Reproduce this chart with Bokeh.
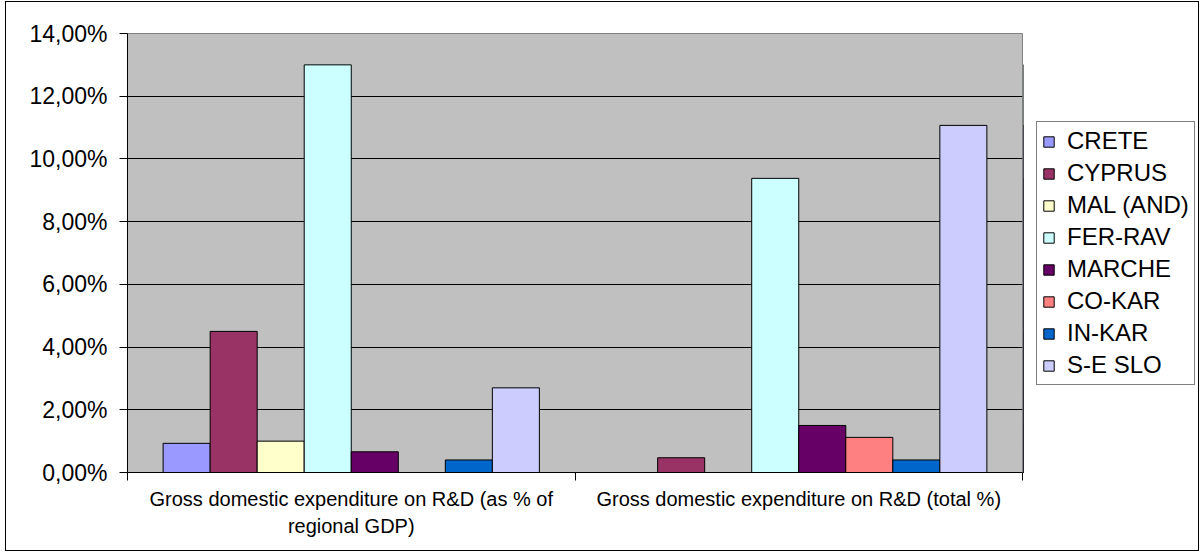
from bokeh.plotting import figure
from bokeh.layouts import row
from bokeh.models import (ColumnDataSource, Range1d, LinearAxis, FixedTicker,
                          Legend, LegendItem)
from bokeh.transform import dodge
from bokeh.embed import file_html
from bokeh.resources import INLINE

nan = float("nan")

categories = ["gdp", "total"]
category_labels = ["Gross domestic expenditure on R&D (as % of\nregional GDP)",
                   "Gross domestic expenditure on R&D (total %)"]
series_names = ["CRETE", "CYPRUS", "MAL (AND)", "FER-RAV", "MARCHE", "CO-KAR", "IN-KAR", "S-E SLO"]
crete = [0.93, nan]
cyprus = [4.50, 0.47]
mal_and = [1.00, nan]
fer_rav = [13.00, 9.38]
marche = [0.66, 1.50]
co_kar = [nan, 1.12]
in_kar = [0.40, 0.40]
se_slo = [2.70, 11.07]
series_values = [crete, cyprus, mal_and, fer_rav, marche, co_kar, in_kar, se_slo]
colors = ["#9999FF", "#993366", "#FFFFCC", "#CCFFFF", "#660066", "#FF8080", "#0066CC", "#CCCCFF"]
y_ticks = [0, 2, 4, 6, 8, 10, 12, 14]
y_tick_labels = ["0,00%", "2,00%", "4,00%", "6,00%", "8,00%", "10,00%", "12,00%", "14,00%"]

FONT = "Liberation Sans"
ncat = len(categories)

p = figure(width=1017, height=548, output_backend="svg", toolbar_location=None,
           x_range=Range1d(0, ncat), y_range=Range1d(0, 14), x_axis_type=None,
           min_border_left=121, min_border_top=31, min_border_right=1, min_border_bottom=78,
           background_fill_color="#C0C0C0", border_fill_color="white",
           outline_line_color="#808080", outline_line_width=1)

data = {"cat": categories, "xpos": [k + 0.5 for k in range(ncat)]}
for name, vals in zip(series_names, series_values):
    data[name] = vals
source = ColumnDataSource(data)

n = len(series_names)
bw = 0.1051
for i, (name, col) in enumerate(zip(series_names, colors)):
    p.vbar(x=dodge("xpos", (i - (n - 1) / 2) * bw), top=name, width=bw,
           bottom=0, source=source, fill_color=col, line_color="#000000", line_width=1)

# y axis
yax = p.yaxis[0]
yax.ticker = FixedTicker(ticks=y_ticks, minor_ticks=[])
yax.major_label_overrides = {t: l for t, l in zip(y_ticks, y_tick_labels)}
yax.major_tick_out = 8
yax.major_tick_in = 0
yax.minor_tick_out = 0
yax.minor_tick_in = 0
yax.axis_line_color = "#000000"
yax.major_tick_line_color = "#000000"
yax.major_label_text_font = FONT
yax.major_label_text_font_size = "23px"
yax.major_label_text_color = "#000000"
yax.major_label_standoff = 12

p.ygrid.ticker = FixedTicker(ticks=y_ticks)
p.ygrid.grid_line_color = "#000000"
p.ygrid.grid_line_width = 1

# x axis: labels at category centres, tick marks at category boundaries
xax = LinearAxis(ticker=FixedTicker(ticks=[k + 0.5 for k in range(ncat)],
                                    minor_ticks=list(range(ncat + 1))),
                 major_label_overrides={k + 0.5: lab for k, lab in enumerate(category_labels)})
xax.major_tick_out = 0
xax.major_tick_in = 0
xax.minor_tick_out = 8
xax.minor_tick_in = 0
xax.minor_tick_line_color = "#000000"
xax.axis_line_color = "#000000"
xax.major_label_text_font = FONT
xax.major_label_text_font_size = "20px"
xax.major_label_text_color = "#000000"
xax.major_label_text_line_height = 1.25
xax.major_label_standoff = 7
p.add_layout(xax, "below")

# legend panel (separate canvas on the right; series drawn off-range so only the legend shows)
lf = figure(width=175, height=548, output_backend="svg", toolbar_location=None,
            x_axis_type=None, y_axis_type=None, x_range=Range1d(10, 11), y_range=Range1d(0, 14),
            min_border_left=0, min_border_right=0, min_border_top=31, min_border_bottom=78,
            background_fill_color="white", border_fill_color="white", outline_line_color=None)
lf.xgrid.visible = False
lf.ygrid.visible = False
items = []
for i, (name, col) in enumerate(zip(series_names, colors)):
    r = lf.vbar(x=dodge("xpos", (i - (n - 1) / 2) * bw), top=name, width=bw, bottom=0,
                source=source, fill_color=col, line_color="#000000", line_width=1)
    items.append(LegendItem(label=name, renderers=[r]))

legend = Legend(items=items, location=(13, 87),
                label_text_font=FONT, label_text_font_size="24px", label_text_color="#000000",
                glyph_width=13, glyph_height=13, label_standoff=12, label_height=28,
                spacing=4, padding=5, margin=0,
                border_line_color="#000000", border_line_width=1,
                background_fill_color="white", background_fill_alpha=1)
lf.add_layout(legend, "center")

layout = row(p, lf, spacing=0,
             styles={"border": "1px solid #000000", "margin-left": "5px", "margin-top": "1px"})

open("out.html", "w").write(file_html(layout, INLINE))
